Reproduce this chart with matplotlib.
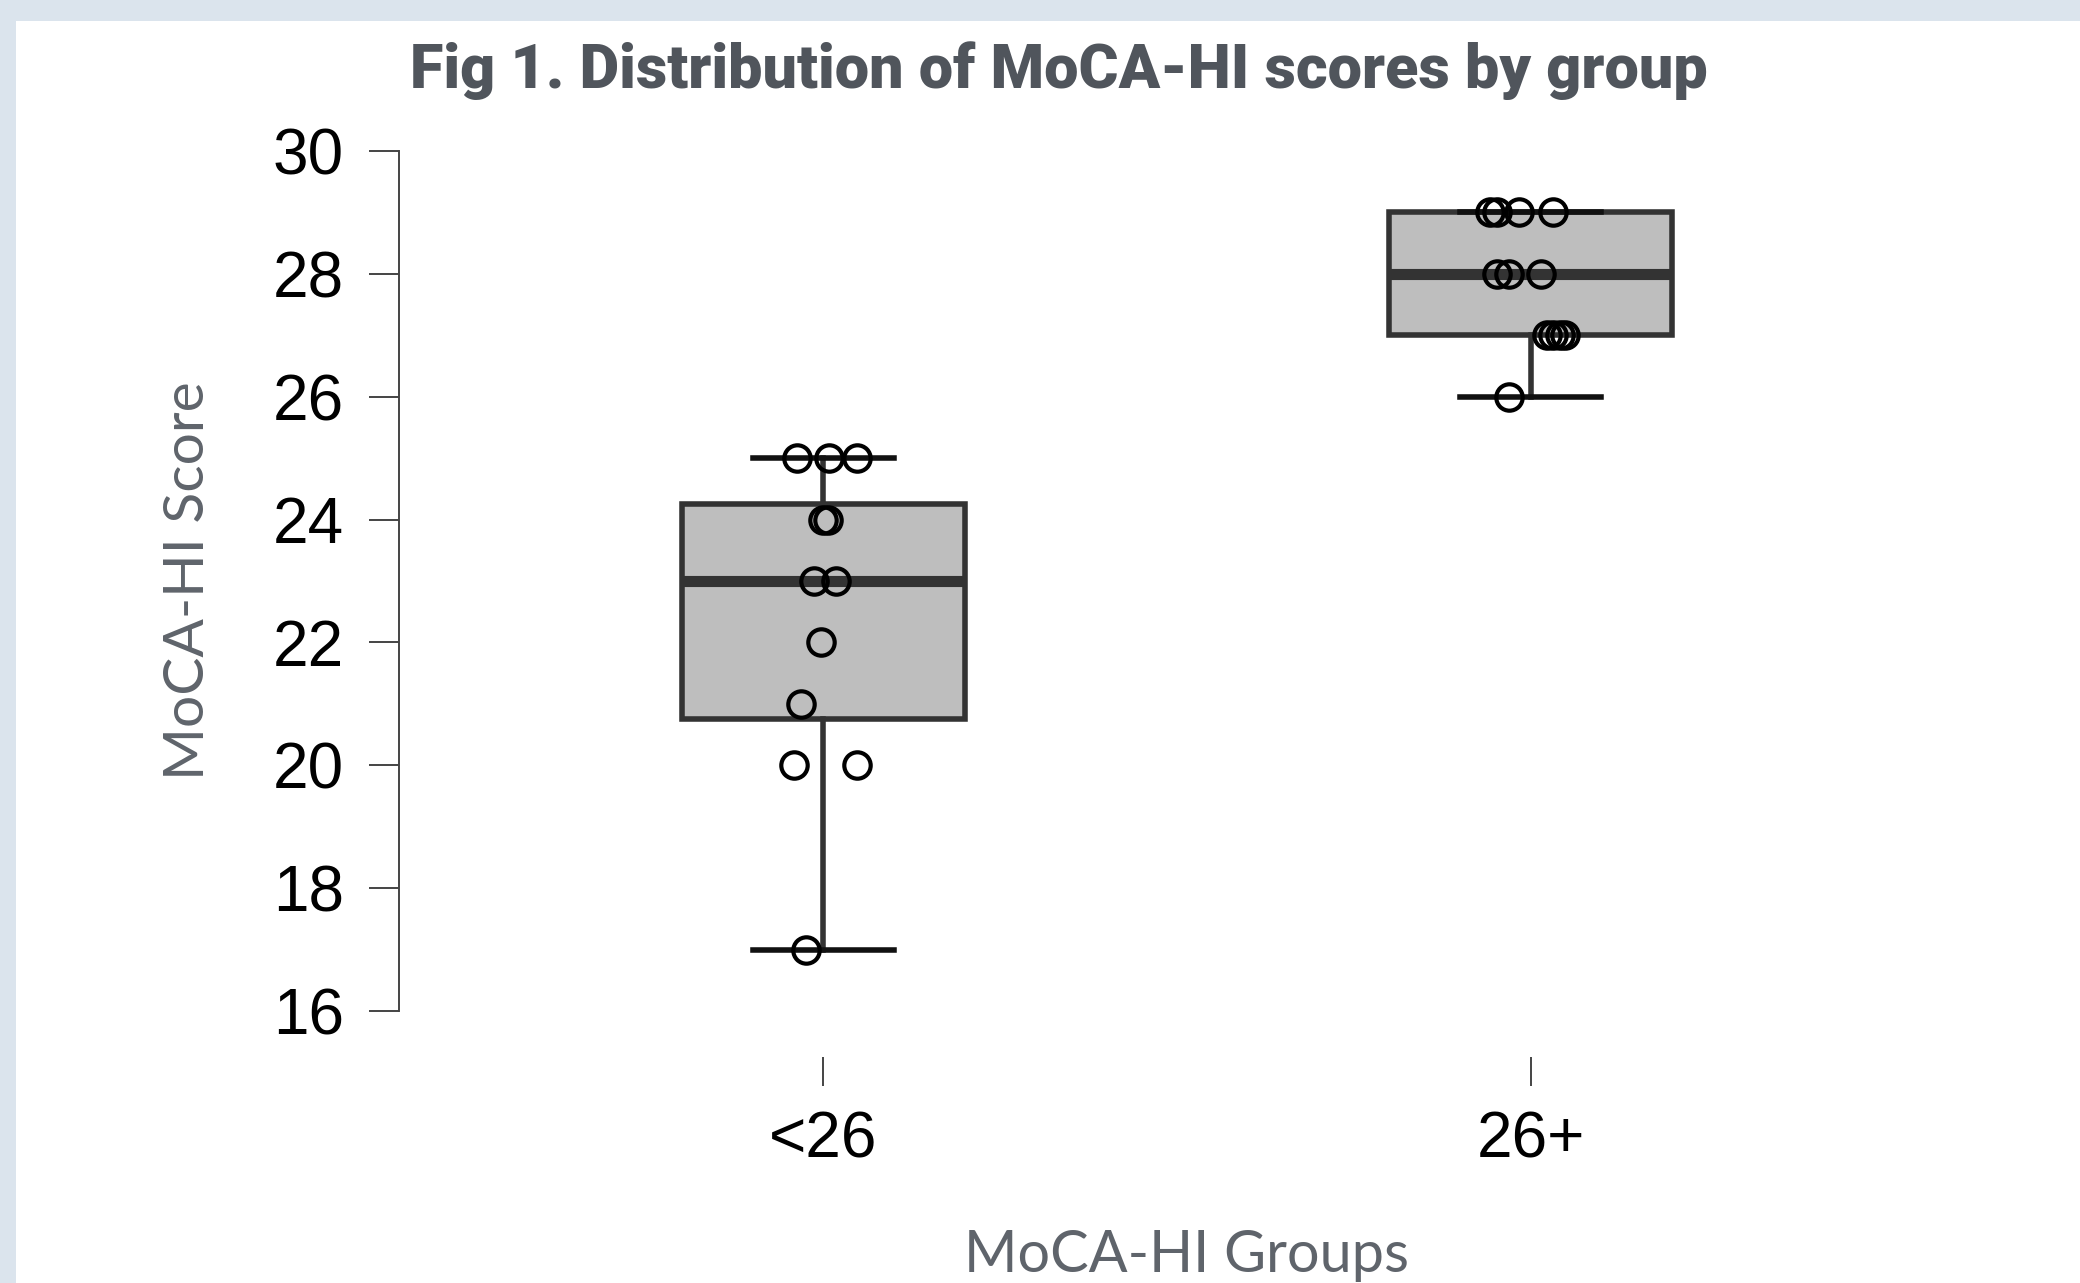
import numpy as np
import matplotlib
matplotlib.use("Agg")
import matplotlib.pyplot as plt
from matplotlib.patches import Rectangle

# data
groups = ["<26", "26+"]
low_scores = [25, 25, 25, 24, 24, 23, 23, 22, 21, 20, 20, 17]
low_jitter = [-0.037, 0.008, 0.048, -0.001, 0.006, -0.013, 0.018, -0.004, -0.031, -0.042, 0.047, -0.024]
high_scores = [29, 29, 29, 29, 28, 28, 28, 27, 27, 27, 27, 26]
high_jitter = [-0.058, -0.048, -0.016, 0.031, -0.048, -0.030, 0.015, 0.023, 0.031, 0.041, 0.048, -0.030]
yticks = [16, 18, 20, 22, 24, 26, 28, 30]

plt.rcParams["font.family"] = ["Liberation Sans", "DejaVu Sans"]
label_font = ["Lato", "DejaVu Sans"]

W, H = 2080, 1283
fig = plt.figure(figsize=(W / 100, H / 100), dpi=100)
fig.patch.set_facecolor("#dbe4ed")
fig.patches.append(Rectangle((16 / W, 0), 1, (H - 21) / H, transform=fig.transFigure,
                             facecolor="white", edgecolor="none", zorder=-5))

ax = fig.add_axes([399 / W, (H - 1045.4) / H, (1955 - 399) / W, (1045.4 - 116.6) / H])
ax.set_facecolor("none")

bp = ax.boxplot([low_scores, high_scores], positions=[1, 2], widths=0.4, patch_artist=True,
                showfliers=False, whis=1.5, manage_ticks=False)
for b in bp["boxes"]:
    b.set(facecolor="#bebebe", edgecolor="#333333", linewidth=4)
for m in bp["medians"]:
    m.set(color="#333333", linewidth=8)
for w in bp["whiskers"]:
    w.set(color="#333333", linewidth=4)
for c in bp["caps"]:
    c.set(color="#111111", linewidth=4)

for pos, ys, jit in [(1, low_scores, low_jitter), (2, high_scores, high_jitter)]:
    xs = pos + np.array(jit)
    ax.plot(xs, ys, "o", mfc="none", mec="black", mew=3, ms=19, zorder=5)

ax.set_xlim(0.4, 2.6)
ax.set_ylim(15.44, 30.56)
ax.set_yticks(yticks)
ax.set_yticklabels([str(t) for t in yticks])
ax.set_xticks([1, 2])
ax.set_xticklabels(groups)
ax.tick_params(labelsize=46)

for s in ["top", "right"]:
    ax.spines[s].set_visible(False)
ax.spines["left"].set_bounds(16, 30)
ax.spines["left"].set(color="#444444", linewidth=1.4)
ax.spines["bottom"].set_position(("outward", 8))
ax.spines["bottom"].set_visible(False)
ax.tick_params(axis="y", length=21.6, width=1.4, color="#444444", pad=18)
ax.tick_params(axis="x", length=21, width=1.4, color="#444444", pad=18)

ax.set_ylabel("MoCA-HI Score", family=label_font, fontweight="normal", fontsize=41, color="#5f646b")
ax.yaxis.set_label_coords((214 - 399) / (1955 - 399), 0.5)
ax.set_xlabel("MoCA-HI Groups", family=label_font, fontweight="normal", fontsize=41.5, color="#5f646b")
ax.xaxis.set_label_coords((1187 - 399) / (1955 - 399), -(1255 - 1045.4) / (1045.4 - 116.6))
ax.xaxis.label.set_va("center")

fig.text(1059 / W, 1 - 71 / H, "Fig 1. Distribution of MoCA-HI scores by group",
         family=["Roboto", "DejaVu Sans"], fontweight="black", fontsize=44,
         color="#50555c", ha="center", va="center")

fig.savefig("out.png", dpi=100, facecolor=fig.get_facecolor())
